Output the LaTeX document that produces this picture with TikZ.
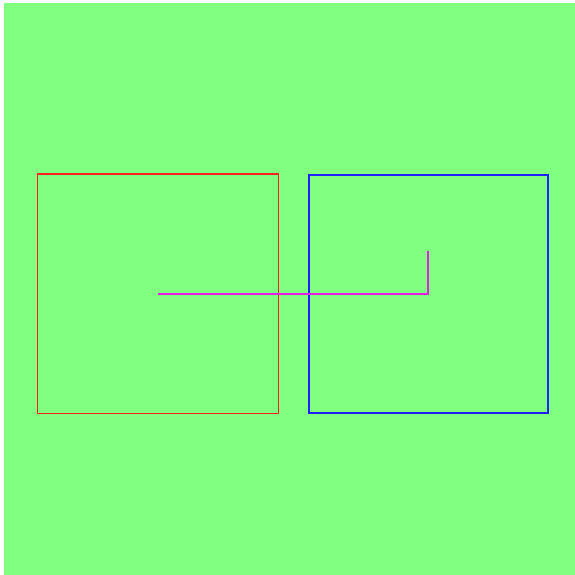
\documentclass[tikz,border=0pt]{standalone}
\definecolor{bggreen}{HTML}{80FF80}
\definecolor{boxred}{HTML}{FF2020}
\definecolor{boxblue}{HTML}{2020FF}
\definecolor{linkmag}{HTML}{E020E0}
\begin{document}
\begin{tikzpicture}[x=1pt,y=-1pt,
  sq/.style={draw, line width=1.6pt, inner sep=0pt, outer sep=0pt, fill=none},
  link/.style={draw=linkmag, line width=1.6pt}]
\useasboundingbox (0,0) rectangle (575,575);
\fill[white] (0,0) rectangle (575,575);
\fill[bggreen] (4,3) rectangle (575,575);
\node[sq, draw=boxred, minimum width=241pt, minimum height=239.5pt] (red) at (158,293.75) {};
\node[sq, draw=boxblue, minimum width=239pt, minimum height=238pt] (blue) at (428.35,293.75) {};
\coordinate (tip) at (427.7,251);
\draw[link] (red.center) -| (tip);
\end{tikzpicture}
\end{document}
